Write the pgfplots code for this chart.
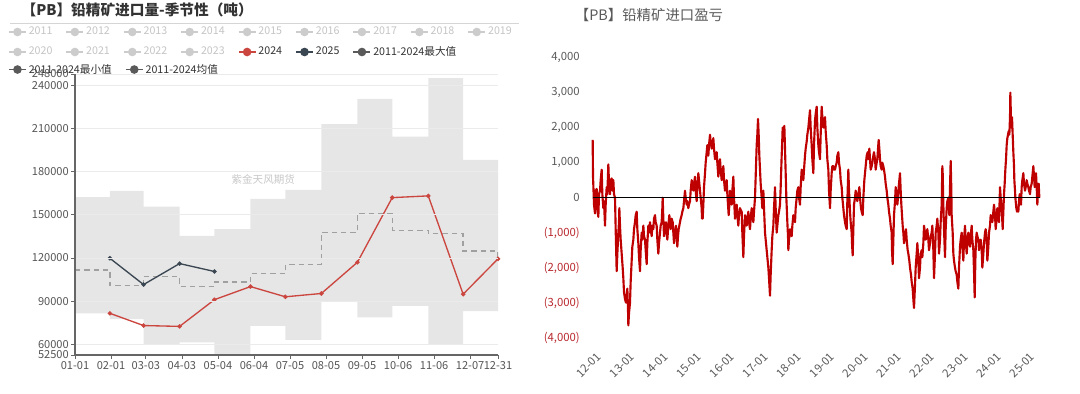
\documentclass[border=0pt]{standalone}
\usepackage{pgfplots}
\pgfplotsset{compat=1.18}
\usepgfplotslibrary{fillbetween}
\usepackage{fontspec}
\setmainfont{Noto Sans CJK SC}
\newfontfamily\cjk{Noto Sans CJK SC}
\definecolor{band}{HTML}{E6E6E6}
\definecolor{avgc}{HTML}{A0A0A0}
\definecolor{c2024}{HTML}{CC4640}
\definecolor{c2025}{HTML}{3A4651}
\definecolor{statc}{HTML}{5A5A5A}
\definecolor{fadec}{HTML}{CCCCCC}
\definecolor{fadet}{HTML}{C4C4C4}
\definecolor{txt}{HTML}{555555}
\definecolor{ltxt}{HTML}{333333}
\definecolor{gridc}{HTML}{EBEBEB}
\definecolor{axisc}{HTML}{666666}
\definecolor{pnl}{HTML}{BE0000}
\definecolor{negc}{HTML}{B8282E}
\definecolor{rtxt}{HTML}{595959}
\pgfplotsset{
  legaxis/.style={hide axis, scale only axis, width=2pt, height=2pt, anchor=west,
    xmin=0, xmax=1, ymin=0, ymax=1, legend columns=-1,
    legend style={at={(0,0.5)}, anchor=west, draw=none, fill=none, inner sep=0pt,
      font=\fontsize{8}{9}\selectfont, text=ltxt,
      nodes={inner xsep=1.6pt, inner ysep=0.5pt},
      /tikz/every even column/.append style={column sep=8.3pt}},
    legend image code/.code={\draw[mark repeat=2,mark phase=2,##1] plot coordinates {(0pt,0pt) (6.4pt,0pt) (12.8pt,0pt)};}},
  fade/.style={fadec, line width=1pt, mark=*, mark size=2.7pt, mark options={solid}},
}
\begin{document}
\begin{tikzpicture}
\path (0,0) rectangle (810pt,294.75pt);
% titles
\node[anchor=west, inner sep=0pt, font=\bfseries\fontsize{11}{12}\selectfont, text=ltxt] at (16pt,287.25pt) {【PB】铅精矿进口量-季节性（吨）};
\draw[gridc!80!gray, line width=0.7pt] (7.5pt,277.5pt) -- (389pt,277.5pt);
\node[anchor=west, inner sep=0pt, font=\fontsize{10.8}{12}\selectfont, text=rtxt] at (431pt,283.5pt) {【PB】铅精矿进口盈亏};

% legend rows
\begin{axis}[legaxis, at={(6pt,270.75pt)}]
\addlegendimage{fade}\addlegendentry[text=fadet]{2011}
\addlegendimage{fade}\addlegendentry[text=fadet]{2012}
\addlegendimage{fade}\addlegendentry[text=fadet]{2013}
\addlegendimage{fade}\addlegendentry[text=fadet]{2014}
\addlegendimage{fade}\addlegendentry[text=fadet]{2015}
\addlegendimage{fade}\addlegendentry[text=fadet]{2016}
\addlegendimage{fade}\addlegendentry[text=fadet]{2017}
\addlegendimage{fade}\addlegendentry[text=fadet]{2018}
\addlegendimage{fade}\addlegendentry[text=fadet]{2019}
\end{axis}
\begin{axis}[legaxis, at={(6pt,255.75pt)}]
\addlegendimage{fade}\addlegendentry[text=fadet]{2020}
\addlegendimage{fade}\addlegendentry[text=fadet]{2021}
\addlegendimage{fade}\addlegendentry[text=fadet]{2022}
\addlegendimage{fade}\addlegendentry[text=fadet]{2023}
\addlegendimage{fade, c2024}\addlegendentry{2024}
\addlegendimage{fade, c2025}\addlegendentry{2025}
\addlegendimage{fade, statc}\addlegendentry{2011-2024最大值}
\end{axis}
\begin{axis}[legaxis, at={(6pt,242.6pt)}]
\addlegendimage{fade, statc}\addlegendentry{2011-2024最小值}
\addlegendimage{fade, statc}\addlegendentry{2011-2024均值}
\end{axis}

% left seasonal chart
\begin{axis}[
  at={(56.25pt,28.5pt)}, anchor=south west, scale only axis,
  width=317.25pt, height=210.75pt,
  xmin=0, xmax=364, ymin=52500, ymax=248000,
  xtick={0,31,61,92,123,154,185,216,247,278,309,340,364},
  xticklabels={01-01,02-01,03-03,04-03,05-04,06-04,07-05,08-05,09-05,10-06,11-06,12-07,12-31},
  ytick={52500,60000,90000,120000,150000,180000,210000,240000,248000},
  yticklabels={52500,60000,90000,120000,150000,180000,210000,240000,248000},
  scaled ticks=false,
  axis x line*=bottom, axis y line*=left,
  axis line style={axisc, line width=0.8pt, -},
  ymajorgrids, grid style={gridc, line width=0.6pt},
  tick align=outside, major tick length=3pt, tick style={axisc, line width=0.6pt},
  ticklabel style={font=\fontsize{8.3}{9}\selectfont, text=txt},
  xticklabel style={inner sep=1.5pt},
  yticklabel style={inner sep=1.5pt},
  axis on top,
]
\addplot[name path=maxp, draw=none, const plot] coordinates {(0,162300)(30,166700)(59,155800)(90,135300)(120,140000)(151,161100)(181,167400)(212,213100)(243,230700)(273,204500)(304,245100)(334,188200)(364,188200)};
\addplot[name path=minp, draw=none, const plot] coordinates {(0,81500)(30,77400)(59,60000)(90,61300)(120,53200)(151,72700)(181,62950)(212,89600)(243,78700)(273,86600)(304,60000)(334,83100)(364,83100)};
\addplot[band, draw=none] fill between[of=maxp and minp];
\addplot[avgc, line width=1pt, const plot, dash pattern=on 4pt off 3pt] coordinates {(0,111700)(30,100800)(59,107000)(90,100100)(120,103300)(151,109100)(181,115400)(212,137700)(243,150900)(273,139300)(304,137200)(334,124900)(364,119000)};
\addplot[c2024, line width=1pt, mark=*, mark size=1.1pt] coordinates {(30,81500)(59,73000)(90,72400)(120,91000)(151,100100)(181,93000)(212,95300)(243,117000)(273,162000)(304,163200)(334,94800)(364,119400)};
\addplot[c2025, line width=1pt, mark=*, mark size=1.1pt] coordinates {(30,119800)(59,101500)(90,116100)(120,110600)};
\node[font=\fontsize{7.9}{8}\selectfont, text=black!22] at (axis cs:162,174300) {紫金天风期货};
\end{axis}

% right PnL chart
\begin{axis}[
  at={(442.5pt,41.5pt)}, anchor=south west, scale only axis,
  width=338.75pt, height=210pt,
  xmin=11.9, xmax=25.45, ymin=-4000, ymax=4000,
  axis line style={draw=none}, major tick length=0pt,
  xtick={12,13,14,15,16,17,18,19,20,21,22,23,24,25},
  xticklabels={12-01,13-01,14-01,15-01,16-01,17-01,18-01,19-01,20-01,21-01,22-01,23-01,24-01,25-01},
  xticklabel style={xshift=2pt, yshift=-10.5pt, rotate=45, anchor=north east, inner sep=0pt},
  ytick={-4000,-3000,-2000,-1000,0,1000,2000,3000,4000},
  yticklabels={{\textcolor{negc}{(4,000)}},{\textcolor{negc}{(3,000)}},{\textcolor{negc}{(2,000)}},{\textcolor{negc}{(1,000)}},{0},{1,000},{2,000},{3,000},{4,000}},
  yticklabel style={inner sep=0pt, xshift=-7.5pt},
  ticklabel style={font=\fontsize{8.5}{9}\selectfont, text=rtxt},
  scaled ticks=false,
]
\addplot[pnl, line width=1.6pt, line join=round] coordinates {
(11.98,1650)(11.99,600)(12.00,350)(12.02,-200)(12.05,-450)(12.07,200)(12.10,250)(12.12,-300)(12.15,-550)(12.17,100)
(12.20,200)(12.22,500)(12.25,800)(12.27,100)(12.30,-300)(12.32,-100)(12.35,-800)(12.37,-200)(12.40,300)(12.42,100)
(12.45,950)(12.47,400)(12.50,100)(12.52,500)(12.55,550)(12.57,200)(12.60,500)(12.62,100)(12.65,0)(12.67,-900)
(12.70,-2100)(12.72,-1600)(12.75,-1000)(12.77,-700)(12.78,-300)(12.80,-800)(12.82,-1200)(12.85,-1600)(12.88,-2000)(12.90,-2300)
(12.92,-2700)(12.95,-2900)(12.98,-3000)(13.00,-2800)(13.02,-2600)(13.04,-3200)(13.05,-3650)(13.07,-3300)(13.10,-3000)(13.12,-2400)
(13.15,-1800)(13.17,-1400)(13.20,-1200)(13.22,-900)(13.25,-700)(13.27,-500)(13.30,-400)(13.32,-900)(13.35,-1300)(13.37,-1700)
(13.40,-2100)(13.42,-1500)(13.45,-1000)(13.47,-1200)(13.50,-800)(13.52,-1100)(13.55,-1200)(13.57,-1500)(13.60,-1900)(13.62,-1300)
(13.65,-800)(13.67,-1000)(13.70,-700)(13.72,-900)(13.75,-1100)(13.77,-800)(13.80,-900)(13.82,-600)(13.85,-500)(13.87,-700)
(13.90,-800)(13.92,-1200)(13.95,-1600)(13.97,-1300)(14.00,-1000)(14.02,-800)(14.05,-700)(14.07,-300)(14.08,0)(14.10,-600)
(14.12,-1100)(14.15,-900)(14.18,-700)(14.20,-1000)(14.22,-1200)(14.25,-800)(14.28,-500)(14.30,-700)(14.32,-900)(14.35,-600)
(14.38,-700)(14.40,-1000)(14.42,-1300)(14.45,-1000)(14.48,-800)(14.50,-1100)(14.52,-1400)(14.54,-1100)(14.56,-900)(14.58,-800)
(14.60,-700)(14.62,-600)(14.65,-500)(14.67,-400)(14.70,-300)(14.72,-100)(14.75,200)(14.77,0)(14.80,-200)(14.82,-100)
(14.85,-300)(14.87,-200)(14.90,-100)(14.92,200)(14.95,500)(14.97,400)(15.00,200)(15.02,400)(15.05,600)(15.07,200)
(15.10,-100)(15.12,300)(15.15,700)(15.17,500)(15.20,200)(15.22,0)(15.25,-300)(15.26,-600)(15.28,-600)(15.30,-200)
(15.32,300)(15.35,700)(15.37,1000)(15.40,1300)(15.42,1500)(15.45,1200)(15.47,1500)(15.50,1800)(15.52,1600)(15.55,1400)
(15.57,1500)(15.60,1700)(15.62,1400)(15.65,1100)(15.67,1200)(15.70,1300)(15.72,1000)(15.75,600)(15.77,900)(15.80,1100)
(15.82,800)(15.85,500)(15.87,700)(15.90,900)(15.92,500)(15.95,200)(15.97,300)(16.00,500)(16.02,100)(16.04,-200)
(16.06,-500)(16.08,-200)(16.10,200)(16.12,0)(16.15,-200)(16.17,200)(16.20,600)(16.22,0)(16.25,-600)(16.27,-400)
(16.30,-200)(16.32,-500)(16.35,-800)(16.37,-500)(16.40,-300)(16.42,-350)(16.45,-400)(16.47,-1000)(16.50,-1700)(16.52,-1100)
(16.55,-500)(16.57,-600)(16.60,-800)(16.62,-600)(16.65,-400)(16.67,-700)(16.70,-900)(16.72,-600)(16.75,-300)(16.77,-500)
(16.80,-700)(16.82,-400)(16.85,0)(16.87,600)(16.90,1500)(16.92,1800)(16.94,2250)(16.96,1800)(16.98,1200)(17.00,800)
(17.02,400)(17.05,0)(17.07,-300)(17.08,-100)(17.10,200)(17.12,-300)(17.15,-1000)(17.17,-1200)(17.20,-1500)(17.22,-1700)
(17.25,-2000)(17.27,-2300)(17.30,-2800)(17.32,-2200)(17.35,-1500)(17.37,-1100)(17.40,-800)(17.42,-300)(17.45,300)(17.47,-300)
(17.50,-1000)(17.52,-800)(17.55,-500)(17.57,-400)(17.60,-200)(17.62,300)(17.65,1200)(17.67,1700)(17.68,2000)(17.70,1900)
(17.73,2050)(17.75,1400)(17.77,700)(17.79,0)(17.82,-700)(17.84,-1100)(17.85,-1500)(17.87,-1200)(17.90,-900)(17.92,-1000)
(17.95,-1100)(17.97,-800)(18.00,-500)(18.02,-600)(18.05,-700)(18.07,-300)(18.10,0)(18.12,200)(18.15,300)(18.17,0)
(18.20,-200)(18.22,300)(18.25,800)(18.27,700)(18.30,500)(18.32,800)(18.35,1200)(18.37,1400)(18.40,1600)(18.42,1800)
(18.45,2000)(18.47,2200)(18.50,2500)(18.52,2000)(18.55,1500)(18.57,1100)(18.60,700)(18.62,1500)(18.65,2200)(18.67,2400)
(18.70,2600)(18.72,2000)(18.75,1500)(18.77,1300)(18.80,1100)(18.82,1800)(18.85,2600)(18.87,2300)(18.90,2000)(18.92,2200)
(18.95,2300)(18.97,1900)(19.00,1500)(19.02,1100)(19.05,800)(19.07,200)(19.10,-300)(19.12,200)(19.15,700)(19.17,900)
(19.20,900)(19.22,800)(19.25,800)(19.27,900)(19.30,1000)(19.32,1200)(19.35,1300)(19.37,1000)(19.40,800)(19.42,500)
(19.45,300)(19.47,0)(19.50,-300)(19.52,-500)(19.55,-700)(19.57,-800)(19.60,-900)(19.62,-100)(19.65,800)(19.67,200)
(19.70,-400)(19.72,-700)(19.75,-1000)(19.76,-1300)(19.78,-1650)(19.80,-900)(19.82,-200)(19.85,0)(19.87,200)(19.90,0)
(19.92,-100)(19.95,100)(19.98,300)(20.00,0)(20.03,-300)(20.05,-400)(20.08,-500)(20.10,0)(20.13,500)(20.15,700)
(20.18,1000)(20.20,1200)(20.23,1300)(20.25,1100)(20.28,1400)(20.30,1100)(20.32,800)(20.35,900)(20.37,1000)(20.40,1200)
(20.42,1300)(20.45,1100)(20.47,800)(20.50,1000)(20.52,1100)(20.54,1400)(20.56,1650)(20.58,1400)(20.60,1100)(20.62,900)
(20.65,800)(20.67,1000)(20.70,900)(20.72,800)(20.75,600)(20.77,400)(20.80,200)(20.82,0)(20.85,-200)(20.87,-400)
(20.90,-600)(20.92,-800)(20.95,-1000)(20.96,-1500)(20.98,-1900)(21.00,-1200)(21.02,-500)(21.05,-100)(21.07,300)(21.10,0)
(21.12,-200)(21.14,0)(21.16,300)(21.18,500)(21.20,700)(21.22,200)(21.24,-200)(21.26,-500)(21.28,-800)(21.30,-1000)
(21.32,-1300)(21.35,-1100)(21.38,-900)(21.40,-1200)(21.43,-1500)(21.45,-1600)(21.48,-1800)(21.50,-2000)(21.53,-2200)(21.55,-2400)
(21.58,-2600)(21.60,-2900)(21.62,-3150)(21.65,-2500)(21.67,-2000)(21.70,-1600)(21.72,-1300)(21.75,-1800)(21.77,-2300)(21.80,-2000)
(21.82,-1600)(21.85,-1500)(21.87,-1700)(21.90,-1300)(21.92,-800)(21.95,-1000)(21.97,-1200)(22.00,-1100)(22.02,-900)(22.05,-1200)
(22.07,-1500)(22.10,-1300)(22.12,-1100)(22.15,-1000)(22.17,-800)(22.20,-1500)(22.22,-2300)(22.25,-1600)(22.27,-1000)(22.30,-800)
(22.32,-600)(22.35,-1000)(22.37,-1600)(22.40,-1200)(22.42,-700)(22.45,-200)(22.47,900)(22.48,700)(22.50,-200)(22.52,-900)
(22.55,-1700)(22.57,-900)(22.60,-300)(22.62,-100)(22.65,0)(22.68,-500)(22.70,300)(22.72,1050)(22.74,200)(22.75,-500)
(22.78,-1000)(22.80,-1600)(22.82,-1800)(22.85,-2000)(22.87,-2100)(22.90,-2200)(22.92,-2400)(22.95,-2600)(22.97,-2000)(23.00,-1400)
(23.02,-1200)(23.05,-1000)(23.07,-1400)(23.10,-1800)(23.12,-1200)(23.15,-800)(23.17,-1200)(23.20,-1600)(23.22,-1300)(23.25,-1000)
(23.27,-1200)(23.30,-1400)(23.32,-1100)(23.35,-800)(23.37,-1200)(23.40,-1500)(23.42,-2100)(23.44,-2850)(23.46,-1800)(23.48,-1200)
(23.50,-1000)(23.52,-1100)(23.55,-1200)(23.57,-1500)(23.60,-1300)(23.62,-1200)(23.65,-1500)(23.67,-2000)(23.70,-1600)(23.72,-1300)
(23.75,-1000)(23.77,-900)(23.80,-1200)(23.82,-1800)(23.85,-1400)(23.87,-1000)(23.90,-800)(23.92,-500)(23.95,-600)(23.97,-700)
(24.00,-400)(24.02,-200)(24.05,-500)(24.07,-900)(24.10,-600)(24.12,-300)(24.15,-500)(24.17,-700)(24.20,300)(24.22,0)
(24.24,-200)(24.26,-500)(24.28,-900)(24.30,-400)(24.32,100)(24.34,400)(24.36,800)(24.38,1100)(24.40,1500)(24.42,1700)
(24.44,1800)(24.46,1900)(24.48,1800)(24.50,2300)(24.51,3000)(24.53,2200)(24.54,2000)(24.56,2300)(24.58,1800)(24.60,1300)
(24.62,900)(24.63,500)(24.65,200)(24.66,0)(24.68,-200)(24.69,-300)(24.71,-400)(24.73,-300)(24.75,-400)(24.77,-100)
(24.79,100)(24.81,-100)(24.83,-200)(24.85,300)(24.87,500)(24.90,700)(24.92,400)(24.95,200)(24.97,300)(25.00,500)
(25.02,400)(25.05,300)(25.07,200)(25.10,100)(25.12,300)(25.15,400)(25.17,600)(25.20,900)(25.22,600)(25.24,300)
(25.26,500)(25.28,700)(25.30,300)(25.32,-200)(25.34,200)(25.36,400)(25.38,0)
};
\addplot[black, line width=0.8pt] coordinates {(11.98,0)(25.40,0)};
\end{axis}
\pgfresetboundingbox
\path[use as bounding box] (0,0) rectangle (810pt,294.75pt);
\end{tikzpicture}
\end{document}
